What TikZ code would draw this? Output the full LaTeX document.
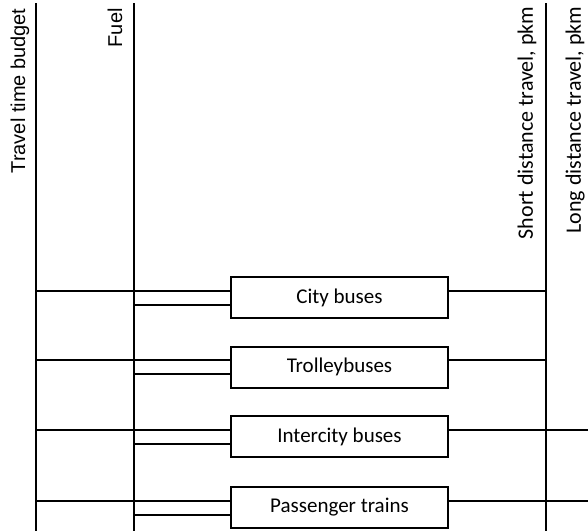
\documentclass[tikz,border=0pt]{standalone}
\usepackage{fontspec}
\setmainfont{Carlito}
\newfontfamily\arialfont{Liberation Sans}
\usetikzlibrary{positioning}
\tikzset{%
  modebox/.style={rectangle,draw,line width=1pt,minimum width=108.5pt,minimum height=20.5pt,inner sep=0pt,font=\fontsize{10.5}{12}\selectfont},
  axislabel/.style={rotate=90,anchor=east,inner sep=0pt,font=\fontsize{11}{13}\selectfont},
  link/.style={line width=1pt}
}

\begin{document}
\begin{tikzpicture}[x=0.5pt,y=-0.5pt]
  \useasboundingbox (0,0) rectangle (588,531);
  % vertical axes
  \coordinate (ttbtop) at (36,3);
  \coordinate (ttbbot) at (36,531);
  \coordinate (fueltop) at (134,3);
  \coordinate (fuelbot) at (134,531);
  \coordinate (sdttop) at (546,3);
  \coordinate (sdtbot) at (546,531);
  \coordinate (ldt) at (588,3);
  \draw[link] (ttbtop) -- (ttbbot);
  \draw[link] (fueltop) -- (fuelbot);
  \draw[link] (sdttop) -- (sdtbot);
  \node[axislabel,font=\arialfont\fontsize{10}{12}\selectfont] (ttblabel) at (20,8) {Travel time budget};
  \node[axislabel,font=\arialfont\fontsize{10}{12}\selectfont] (fuellabel) at (115,8) {Fuel};
  \node[axislabel] (sdtlabel) at (527,6) {Short distance travel, pkm};
  \node[axislabel] (ldtlabel) at (575,6) {Long distance travel, pkm};
  % transport modes
  \foreach \nm/\txt/\yy/\far in {city/City buses/297.5/sdttop,
      trolley/Trolleybuses/367/sdttop,
      intercity/Intercity buses/436.5/ldt,
      train/Passenger trains/507.5/ldt}{
    \node[modebox] (\nm) at (339.5,\yy) {\txt};
    \draw[link] ([yshift=3.5pt]\nm.west) -- ([yshift=3.5pt]\nm.west -| ttbtop);
    \draw[link] ([yshift=-3.5pt]\nm.west) -- ([yshift=-3.5pt]\nm.west -| fueltop);
    \draw[link] ([yshift=3.5pt]\nm.east) -- ([yshift=3.5pt]\nm.east -| \far);
  }
\end{tikzpicture}
\end{document}
